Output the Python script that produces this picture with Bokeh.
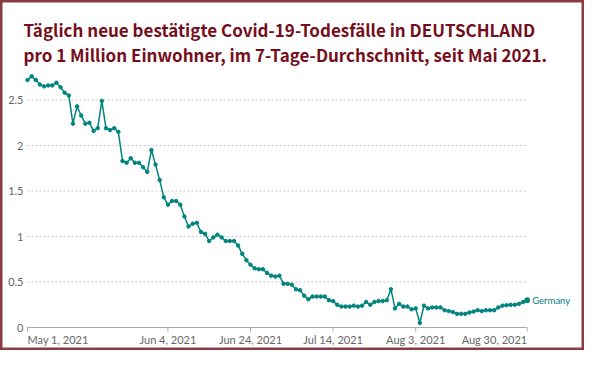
import math
import pandas as pd
from bokeh.plotting import figure
from bokeh.models import Label, Range1d
from bokeh.embed import file_html
from bokeh.resources import INLINE

# ---------------- data ----------------
start_date = "2021-05-01"
series_name = "Germany"
deaths_per_million = [
    2.72, 2.76, 2.72, 2.67, 2.65, 2.66, 2.66, 2.69, 2.64, 2.58,
    2.55, 2.24, 2.43, 2.33, 2.24, 2.25, 2.16, 2.19, 2.49, 2.19,
    2.17, 2.19, 2.15, 1.83, 1.81, 1.86, 1.81, 1.81, 1.76, 1.71,
    1.95, 1.79, 1.62, 1.43, 1.35, 1.39, 1.39, 1.35, 1.22, 1.11,
    1.14, 1.15, 1.05, 1.03, 0.95, 0.99, 1.02, 0.99, 0.95, 0.95,
    0.95, 0.90, 0.81, 0.74, 0.69, 0.65, 0.64, 0.64, 0.60, 0.57,
    0.56, 0.57, 0.48, 0.48, 0.47, 0.42, 0.41, 0.35, 0.31, 0.34,
    0.34, 0.34, 0.34, 0.30, 0.29, 0.25, 0.23, 0.23, 0.23, 0.24,
    0.23, 0.24, 0.28, 0.25, 0.28, 0.29, 0.29, 0.30, 0.42, 0.21,
    0.26, 0.23, 0.23, 0.20, 0.21, 0.05, 0.24, 0.21, 0.22, 0.22,
    0.22, 0.19, 0.18, 0.17, 0.15, 0.15, 0.15, 0.165, 0.175, 0.19,
    0.18, 0.19, 0.19, 0.19, 0.22, 0.24, 0.245, 0.25, 0.25, 0.26,
    0.28, 0.30,
]
y_ticks = [0, 0.5, 1, 1.5, 2, 2.5]
y_tick_labels = ["0", "0.5", "1", "1.5", "2", "2.5"]
x_tick_dates = ["2021-05-01", "2021-06-04", "2021-06-24", "2021-07-14", "2021-08-03", "2021-08-30"]
x_tick_labels = ["May 1, 2021", "Jun 4, 2021", "Jun 24, 2021", "Jul 14, 2021", "Aug 3, 2021", "Aug 30, 2021"]
title_lines = [
    "Täglich neue bestätigte Covid-19-Todesfälle in DEUTSCHLAND",
    "pro 1 Million Einwohner, im 7-Tage-Durchschnitt, seit Mai 2021.",
]

# ---------------- derived ----------------
t0 = pd.Timestamp(start_date)
days = list(range(len(deaths_per_million)))
tick_days = [(pd.Timestamp(d) - t0).days for d in x_tick_dates]
last_day = days[-1]
grid_levels = y_ticks[1:]

LINE = "#00847e"
TITLE = "#750e1c"
GREY = "#666666"
AXIS = "#aaaaaa"
LABEL_FONT = "Lato"
TITLE_FONT = "Noto Sans CJK SC"

W, H = 584, 350
# the whole canvas is the plot frame; ranges place the chart area where the reference has it
x_range = Range1d(-6.538, 134.87)
y_range = Range1d(-0.2527, 3.5934)

p = figure(
    width=W, height=H,
    output_backend="svg", toolbar_location=None,
    x_range=x_range, y_range=y_range,
    x_axis_type=None, y_axis_type=None,
    min_border=0,
)
p.outline_line_color = "#8a3a40"
p.outline_line_width = 4
p.grid.visible = False
p.background_fill_color = "white"
p.border_fill_color = "white"

# horizontal dotted grid lines (span the data period only)
p.segment(x0=[0] * len(grid_levels), y0=grid_levels,
          x1=[last_day] * len(grid_levels), y1=grid_levels,
          line_color="#c8c8c8", line_width=1, line_dash="2 2")

# x axis line and ticks
p.segment(x0=[0], y0=[0], x1=[last_day], y1=[0], line_color=AXIS, line_width=1)
p.ray(x=tick_days, y=[0] * len(tick_days), length=4, length_units="screen",
      angle=-math.pi / 2, line_color=AXIS, line_width=1)

# x tick labels
for i, (d, lab) in enumerate(zip(tick_days, x_tick_labels)):
    align = "left" if i == 0 else ("right" if i == len(tick_days) - 1 else "center")
    p.add_layout(Label(
        x=d, y=0, y_offset=-5, text=lab, text_align=align, text_baseline="top",
        text_font=LABEL_FONT, text_font_size="11px", text_color=GREY,
    ))

# y tick labels
for t, lab in zip(y_ticks, y_tick_labels):
    p.add_layout(Label(
        x=0, y=t, x_offset=-4, text=lab, text_align="right", text_baseline="middle",
        text_font=LABEL_FONT, text_font_size="11px", text_color=GREY,
    ))

# series
p.line(days, deaths_per_million, line_color=LINE, line_width=1.5)
p.scatter(days, deaths_per_million, size=3.5, color=LINE)
p.scatter([last_day], [deaths_per_million[-1]], size=5, color=LINE)

p.add_layout(Label(
    x=last_day, y=deaths_per_million[-1], x_offset=5, text=series_name,
    text_baseline="middle", text_font=LABEL_FONT, text_font_size="9.5px", text_color=LINE,
))

# title (two lines, top-left)
for i, line in enumerate(title_lines):
    p.add_layout(Label(
        x=x_range.start, y=y_range.end, x_offset=23, y_offset=-(29 + 25 * i), text=line,
        text_baseline="alphabetic", text_font=TITLE_FONT,
        text_font_style="bold", text_font_size="17px", text_color=TITLE,
    ))

open("out.html", "w").write(file_html(p, INLINE))
